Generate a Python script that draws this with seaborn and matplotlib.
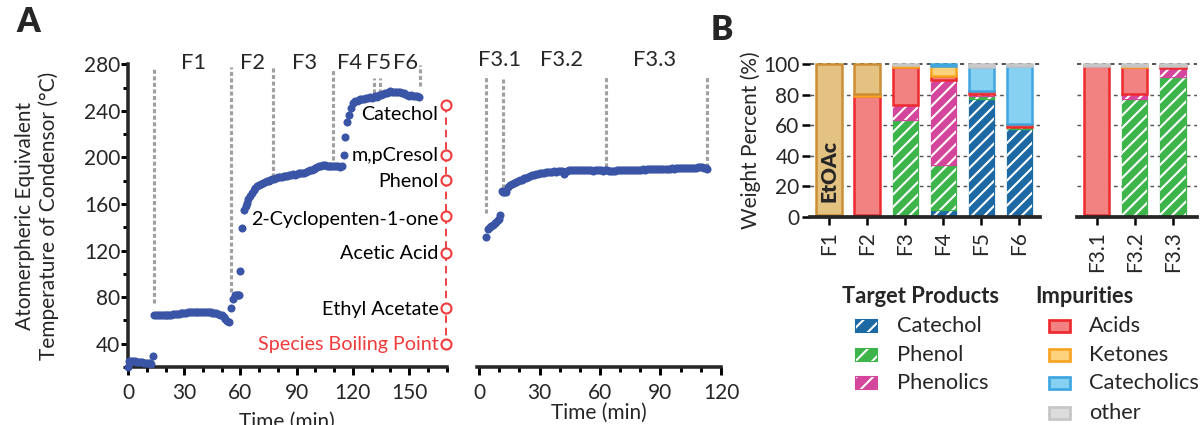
import matplotlib
matplotlib.use('Agg')
import matplotlib.pyplot as plt
import seaborn as sns
import numpy as np
from matplotlib.patches import Rectangle
from matplotlib.ticker import MultipleLocator

# ---- panel A: condensor temperature during the first distillation ----
run1_time = [0, 0.6, 1.5, 2.5, 3.5, 4.5, 5.5, 6.5, 7.5, 8.5, 9.5, 10.5, 11.5, 12.4, 13.2,
             14, 15, 16, 17, 18, 19, 20, 21, 22, 23, 24, 25, 26, 27, 28, 29, 30, 31, 32, 33, 34,
             35, 36, 37, 38, 39, 40, 41, 42, 43, 44, 45, 46, 47, 48, 49, 50, 51, 52, 53, 53.8,
             54.9, 56, 57.2, 58, 58.8, 59.4, 60, 61, 62, 62.7, 63.4, 64.2, 65.2, 66, 67, 68, 69,
             70, 71, 72, 73, 74, 75, 76, 77, 78, 79, 80, 81, 82, 83, 84, 85, 86, 87, 88, 89,
             90, 91, 92, 93, 94, 95, 96, 97, 98, 99, 100, 101, 102, 103, 104, 105, 106, 107, 108, 109,
             110, 111, 112, 113, 114, 115, 116, 117, 118, 119, 120.3, 121.3, 122.3, 123, 124, 125, 126, 127, 128, 129,
             130, 131, 132, 133, 134, 135, 136, 137, 138, 139, 140, 141, 142, 143, 144, 145, 146, 147, 148, 149,
             150, 151, 152, 153, 154, 155]
run1_temp = [20, 25.5, 25.2, 25.0, 24.8, 24.6, 24.4, 24.1, 23.9, 23.6, 23.4, 23.2, 23.0, 22.8, 29,
             64.3, 64.2, 64.2, 64.3, 64.3, 64.4, 64.5, 64.6, 64.8, 65.0, 65.2, 65.4, 65.6, 65.8, 66.0, 66.2,
             66.5, 66.7, 66.9, 67.0, 67.1,
             67.2, 67.3, 67.3, 67.2, 67.1, 67.2, 67.1, 67.0, 66.9, 66.8, 66.6, 66.4, 66.0, 65.6, 65.0, 64.4,
             63.3, 61.5, 59.6, 58.2,
             70.3, 78, 81.5, 81.8, 82, 82, 102, 139.4, 155, 158.5, 161, 164, 166.5, 169, 172, 174, 175.3,
             176.2, 177, 177.8, 178.6, 179.4, 180, 180.6, 181.3, 181.8, 182.3, 182.8, 183.1, 183.4, 183.8,
             184, 184.2, 184.5, 185.3, 185.6, 185.3,
             185.8, 186.2, 186.8, 186.4, 187, 187.8, 188.4, 189, 189.6, 190.3, 191, 191.6, 192.2, 193,
             193.3, 193.2, 193, 192.8, 192.6, 192.4,
             192.3, 192.2, 192.4, 192.0, 192.6, 202.3, 217.4, 230, 236.6, 242.3, 246.5, 248.2, 248.5,
             249.3, 250, 250.5, 250.2, 251, 251.3, 251.5,
             251.2, 252, 252.4, 252.2, 253.5, 253.8, 254.2, 255, 255.6, 256.6, 257, 256.4, 255.8, 256.2,
             256, 255.8, 255.5, 255, 254.4, 253.6,
             253, 253.4, 252.6, 253, 252.4, 252.2]

# second distillation of fraction F3
run2_time = [3.3, 4.5, 5.3, 6.1, 6.9, 7.7, 8.5, 9.3, 10.1, 10.6, 11.2, 11.9, 12.6, 13.3,
             14.3, 15.3, 16.3, 17.3, 18.3, 19.3, 20.3, 21.3, 22.3, 23.3, 24.3, 25.3, 26.3, 27.3,
             28.3, 29.3, 30.3, 31.3, 32.3, 33.3, 34.3, 35.3, 36.3, 37.3, 38.3, 39.3, 40.3, 41.3,
             42, 42.7,
             43.5, 44.5, 45.5, 46.5, 47.5, 48.5, 49.5, 50.5, 51.5, 52.5,
             53.5, 54.5, 55.5, 56.5, 57.5, 58.5, 59.5, 60.5, 61.5, 62.5,
             63.5, 64.5, 65.5, 66.5, 67.5, 68.5, 69.5, 70.5, 71.5, 72.5,
             73.5, 74.5, 75.5, 76.5, 77.5, 78.5, 79.5, 80.5, 81.5, 82.5,
             83.5, 84.5, 85.5, 86.5, 87.5, 88.5, 89.5, 90.5, 91.5, 92.5,
             93.5, 94.5, 95.5, 96.5, 97.5, 98.5, 99.5, 100.5, 101.5, 102.5,
             103.5, 104.5, 105.5, 106.5, 107.5, 108.5, 109.5, 110.5, 111.5, 112.5,
             113]
run2_temp = [131.4, 138.6, 139.8, 141, 142.2, 143.3, 144.6, 145.8, 147, 150.9, 170.8, 170.3, 170.1, 170.4,
             175, 176.6, 177, 177.6, 179, 179.4, 180.3, 181, 182, 182.4, 183.4, 184, 184.8, 185.2,
             185.6, 186.1, 186.3, 186.8, 186.6, 187.1, 187.4, 187.2, 187.5, 187.9, 187.6, 188, 188.2, 187.9,
             185.6, 187.5,
             188.6, 189.2, 189.5, 189.4, 189.6, 189.4, 189.5, 189.2, 189.4, 189.0,
             189.3, 188.9, 189.1, 188.7, 189.0, 189.2, 188.8, 189.0, 188.7, 189.1,
             188.9, 188.4, 188.2, 188.0, 188.5, 188.9, 189.2, 189.0, 189.3, 189.1,
             189.4, 189.2, 189.5, 189.3, 189.6, 189.4, 189.6, 189.5, 189.8, 189.6,
             189.9, 189.7, 190.0, 189.8, 190.1, 189.9, 190.2, 190.0, 190.3, 190.1,
             190.4, 190.2, 190.5, 190.3, 190.6, 190.5, 190.8, 190.6, 190.9, 190.7,
             191.0, 190.9, 191.2, 191.0, 191.3, 191.4, 191.7, 191.5, 191.3, 190.8,
             190.4]

# fraction cuts (time of cut)
cuts1 = [13.7, 55.0, 77.1, 109.4, 131.3, 134.7, 155.7]
cuts2 = [3.3, 12.1, 63.2, 113]
cut_names1 = ['F1', 'F2', 'F3', 'F4', 'F5', 'F6']
cut_names2 = ['F3.1', 'F3.2', 'F3.3']

species = ['Catechol', 'm,pCresol', 'Phenol', '2-Cyclopenten-1-one',
           'Acetic Acid', 'Ethyl Acetate', 'Species Boiling Point']
species_bp = [245, 202, 181, 150, 118, 71, 40]

# ---- panel B: composition (wt %) ----
fractions = ['F1', 'F2', 'F3', 'F4', 'F5', 'F6']
subfractions = ['F3.1', 'F3.2', 'F3.3']

catechol = [1.0, 1.0, 1.0, 4.7, 77.0, 57.3]
phenol = [0, 0, 62.5, 29.3, 2.0, 1.6]
phenolics = [0, 0, 10.0, 55.5, 1.2, 0]
acids = [0, 78.0, 24.5, 2.5, 2.0, 1.8]
ketones = [0, 1.5, 1.8, 7.0, 0, 0]
catecholics = [0, 0, 0, 1.0, 16.2, 38.5]
other = [0, 0, 0.2, 0, 1.6, 0.8]
etoac = [99.0, 19.5, 0, 0, 0, 0]

catechol_sub = [0, 0, 0]
phenol_sub = [1.3, 77.3, 91.8]
phenolics_sub = [0, 2.9, 5.5]
acids_sub = [97.6, 17.8, 1.8]
ketones_sub = [0, 1.2, 0]
catecholics_sub = [0, 0, 0]
other_sub = [1.1, 0.8, 0.9]
etoac_sub = [0, 0, 0]

# ---- style ----
sns.set_style('ticks')
plt.rcParams['font.family'] = ['Lato', 'DejaVu Sans']
plt.rcParams['font.size'] = 10
plt.rcParams['hatch.linewidth'] = 1.0

blue = '#3a54a6'
gray = '#a0a0a0'
red = '#ef3b3b'
fill = {'Catechol': '#1d69a3', 'Phenol': '#3db54a', 'Phenolics': '#d4469b',
        'Acids': '#f28282', 'Ketones': '#fdd27c', 'Catecholics': '#86d0f2',
        'other': '#dcdcdc', 'EtOAc': '#e3c282'}
edge = {'Catechol': '#1d69a3', 'Phenol': '#3db54a', 'Phenolics': '#d4469b',
        'Acids': '#ee2a2e', 'Ketones': '#f7a521', 'Catecholics': '#3fa6e0',
        'other': '#c6c6c6', 'EtOAc': '#cc8d35'}
hatched = ['Catechol', 'Phenol', 'Phenolics']

W, H = 1200, 425
fig = plt.figure(figsize=(W / 150, H / 150), dpi=150)


def fx(x):
    return x / W


def fy(y):
    return 1 - y / H


# ---- panel A axes ----
ax1 = fig.add_axes([0.1067, 0.1353, 0.2655, 0.7134])
ax2 = fig.add_axes([0.3975, 0.1353, 0.2033, 0.7134])
for ax in (ax1, ax2):
    ax.set_ylim(19.5, 280)
    ax.spines[['top', 'right']].set_visible(False)
    for s in ax.spines.values():
        s.set_linewidth(1.7)
    ax.tick_params(axis='x', which='major', length=4, width=1.4, labelsize=10, pad=3.5, color='black')
    ax.tick_params(axis='x', which='minor', length=2.5, width=1.4, color='black')
    ax.tick_params(axis='y', which='major', length=3.2, width=1.4, labelsize=10, pad=0.5, color='black')
    ax.tick_params(axis='y', which='minor', length=2.2, width=1.4, color='black')
    ax.xaxis.set_major_locator(MultipleLocator(30))
    ax.xaxis.set_minor_locator(MultipleLocator(10))
    ax.set_xlabel('Time (min)', fontsize=10)

ax1.set_xlim(0, 170)
ax1.set_yticks(np.arange(40, 281, 40))
ax1.yaxis.set_minor_locator(MultipleLocator(20))
ax1.set_ylabel('Atomerpheric Equivalent\nTemperature of Condensor (\u00b0C)', fontsize=10)
ax1.yaxis.set_label_coords(-0.216, 0.5)
ax1.xaxis.set_label_coords(0.5, -0.145)

ax2.set_xlim(-1, 120)
ax2.spines['left'].set_visible(False)
ax2.set_yticks([])
ax2.xaxis.set_label_coords(0.5, -0.117)

sns.scatterplot(x=run1_time, y=run1_temp, ax=ax1, color=blue, s=15, linewidth=0,
                clip_on=False, zorder=4)
sns.scatterplot(x=run2_time, y=run2_temp, ax=ax2, color=blue, s=15, linewidth=0,
                clip_on=False, zorder=4)

dash = dict(color=gray, lw=1.5, ls=(0, (1.3, 0.8)), zorder=2, clip_on=False)
for t, top, bot in zip(cuts1, [278, 278, 278, 275, 268, 268, 279], [75, 84, 183, 198, 255, 255, 261]):
    ax1.plot([t, t], [bot, top], **dash)
for t, top, bot in zip(cuts2, [271, 267, 270, 270], [152, 174, 192, 192]):
    ax2.plot([t, t], [bot, top], **dash)
for name, x in zip(cut_names1, [34.7, 66.3, 94, 118, 133.6, 148]):
    ax1.text(x, 281, name, ha='center', va='center', fontsize=10.5)
for name, x in zip(cut_names2, [10.3, 40.8, 87.1]):
    ax2.text(x, 283.5, name, ha='center', va='center', fontsize=10.5)

# species boiling points
ax1.plot([169.5] * len(species_bp), species_bp, color=red, lw=0.9, ls=(0, (4, 2.6)),
         marker='o', ms=4.8, mfc='white', mec=red, mew=1, clip_on=False, zorder=5)
for name, y in zip(species, [237, 202, 179.5, 147, 117.5, 69.5, 39.5]):
    ax1.text(165.6, y, name, ha='right', va='center', fontsize=9.5,
             color=red if name == 'Species Boiling Point' else 'black')

# ---- panel B axes ----
bx1 = fig.add_axes([0.675, 0.4901, 0.1917, 0.3586])
bx2 = fig.add_axes([0.8975, 0.4901, 0.1, 0.3586])


def stacked(ax, names, layers):
    x = np.arange(len(names))
    bottom = np.zeros(len(names))
    for comp, vals in layers:
        vals = np.asarray(vals, float)
        m = vals > 0
        if m.any():
            if comp in hatched:
                ax.bar(x[m], vals[m], 0.66, bottom=bottom[m], color=fill[comp],
                       edgecolor=edge[comp], lw=0.6, zorder=3, clip_on=False)
                ax.bar(x[m], vals[m], 0.66, bottom=bottom[m], color='none',
                       edgecolor='white', hatch='////', lw=0, zorder=3, clip_on=False)
            else:
                ax.bar(x[m], vals[m], 0.66, bottom=bottom[m], color=fill[comp],
                       edgecolor=edge[comp], lw=1.2, zorder=3, clip_on=False)
        bottom += vals


stacked(bx1, fractions, [('Catechol', catechol), ('Phenol', phenol), ('Phenolics', phenolics),
                         ('Acids', acids), ('Ketones', ketones), ('Catecholics', catecholics),
                         ('other', other), ('EtOAc', etoac)])
stacked(bx2, subfractions, [('Catechol', catechol_sub), ('Phenol', phenol_sub),
                            ('Phenolics', phenolics_sub), ('Acids', acids_sub),
                            ('Ketones', ketones_sub), ('Catecholics', catecholics_sub),
                            ('other', other_sub), ('EtOAc', etoac_sub)])
bx1.text(0, 9.5, 'EtOAc', rotation=90, ha='center', va='bottom', fontsize=10,
         fontweight='heavy', zorder=6)

for bx, names in ((bx1, fractions), (bx2, subfractions)):
    bx.set_ylim(0, 100)
    bx.spines[['top', 'right', 'left']].set_visible(False)
    bx.spines['bottom'].set_linewidth(1.8)
    bx.spines['bottom'].set_zorder(5)
    for y in [20, 40, 60, 80]:
        bx.axhline(y, color='#555555', lw=0.7, ls=(0, (2.5, 2.5)), zorder=1)
    bx.axhline(100, color='#333333', lw=0.8, ls=(0, (2.5, 2.5)), zorder=1, clip_on=False)
    bx.set_xticks(range(len(names)))
    bx.set_xticklabels(names, rotation=90)
    bx.tick_params(axis='x', length=4, width=1.2, labelsize=10, pad=3, color='black')
    bx.tick_params(axis='y', length=4, width=1.2, labelsize=10, pad=1, color='black')

bx1.set_xlim(-0.5, 5.55)
bx2.set_xlim(-0.52, 2.63)
bx1.set_yticks(np.arange(0, 101, 20))
bx2.set_yticks([])
bx1.set_ylabel('Weight Percent (%)', fontsize=10)
bx1.yaxis.set_label_coords(-0.215, 0.5)

# ---- legend ----
fig.text(fx(841.7), fy(296.7), 'Target Products', fontweight='bold', fontsize=10.5,
         ha='left', va='center')
fig.text(fx(1035), fy(296.7), 'Impurities', fontweight='bold', fontsize=10.5,
         ha='left', va='center')


def legend_entry(x_patch, x_text, y, comp):
    w, h = fx(21), 12 / H
    r = Rectangle((fx(x_patch), fy(y) - h / 2), w, h, transform=fig.transFigure,
                  facecolor=fill[comp], edgecolor=edge[comp], lw=1.0 if comp in hatched else 1.3)
    fig.add_artist(r)
    if comp in hatched:
        fig.add_artist(Rectangle((fx(x_patch), fy(y) - h / 2), w, h, transform=fig.transFigure,
                                 facecolor='none', edgecolor='white', hatch='///', lw=0))
    fig.text(fx(x_text), fy(y), comp, fontsize=10.5, ha='left', va='center')


for comp, y in zip(hatched, [326, 355, 383.3]):
    legend_entry(856, 896.7, y, comp)
for comp, y in zip(['Acids', 'Ketones', 'Catecholics', 'other'], [326, 355, 383.3, 412.7]):
    legend_entry(1048.5, 1089, y, comp)

fig.text(fx(28), fy(22), 'A', fontsize=16, fontweight='heavy', ha='center', va='center')
fig.text(fx(722), fy(30), 'B', fontsize=16, fontweight='heavy', ha='center', va='center')

fig.savefig('out.png', dpi=150)
